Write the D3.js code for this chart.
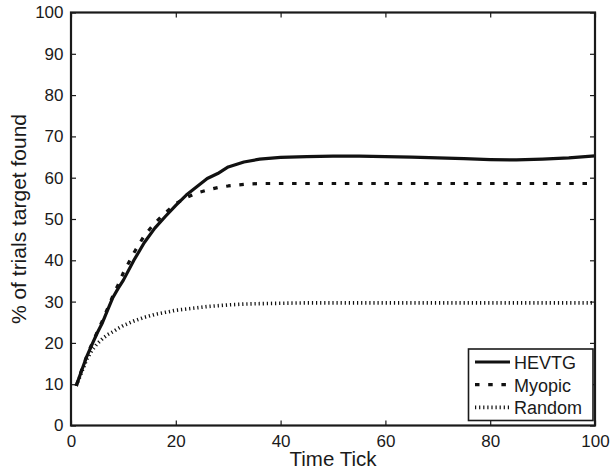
<!DOCTYPE html>
<html><head><meta charset="utf-8">
<script src="https://cdn.jsdelivr.net/npm/d3@7"></script>
<style>
body{margin:0;background:#fff}
text{font-family:"Liberation Sans",Arial,Helvetica,sans-serif;fill:#1a1a1a}
</style>
</head><body>
<svg id="chart" width="615" height="476"></svg>
<script>
// ---- data ----
const timeTicks = [1,2,3,4,5,6,7,8,9,10,12,14,16,18,20,22,24,26,28,30,33,36,40,45,50,55,60,65,70,75,80,85,90,95,100];
const hevtgValues = [9.6,13.2,16.7,19.6,22.4,24.9,28.0,31.0,33.2,35.2,40.0,44.3,47.8,50.6,53.3,55.8,57.8,59.8,61.0,62.6,63.8,64.5,64.9,65.1,65.2,65.2,65.1,65.0,64.8,64.6,64.4,64.3,64.5,64.8,65.3];
const myopicValues = [9.6,13.3,16.8,19.8,22.6,25.4,28.4,31.4,34.1,37.0,41.8,46.0,49.0,51.5,53.7,55.2,56.3,57.0,57.6,58.0,58.4,58.6,58.6,58.6,58.6,58.6,58.6,58.6,58.6,58.6,58.6,58.6,58.6,58.6,58.6];
const randomValues = [9.6,12.8,16.0,18.2,19.8,21.0,22.0,22.7,23.5,24.2,25.3,26.2,26.9,27.4,27.9,28.2,28.5,28.8,29.0,29.2,29.4,29.5,29.6,29.7,29.7,29.7,29.7,29.7,29.7,29.7,29.7,29.7,29.7,29.7,29.7];
const seriesNames = ["HEVTG","Myopic","Random"];
const xTickValues = [0,20,40,60,80,100];
const yTickValues = [0,10,20,30,40,50,60,70,80,90,100];
const xLabel = "Time Tick";
const yLabel = "% of trials target found";

// ---- layout ----
const L = 71, R = 595, T = 12.5, B = 425.5;
const svg = d3.select("#chart");
const x = d3.scaleLinear().domain([0,100]).range([L,R]);
const y = d3.scaleLinear().domain([0,100]).range([B,T]);

const styles = [
  {width:3.2, dash:null},
  {width:3.2, dash:"4.5,8.7"},
  {width:3.6, dash:"1.2,2.9"}
];
const allValues = [hevtgValues, myopicValues, randomValues];

// axes
const gx = svg.append("g").attr("transform",`translate(0,${B})`)
  .call(d3.axisBottom(x).tickValues(xTickValues).tickSizeInner(-5).tickSizeOuter(0).tickPadding(9.5));
const gy = svg.append("g").attr("transform",`translate(${L},0)`)
  .call(d3.axisLeft(y).tickValues(yTickValues).tickSizeInner(-5).tickSizeOuter(0).tickPadding(7.5));
const gxt = svg.append("g").attr("transform",`translate(0,${T})`)
  .call(d3.axisTop(x).tickValues(xTickValues).tickSizeInner(-5).tickSizeOuter(0).tickFormat(""));
const gyr = svg.append("g").attr("transform",`translate(${R},0)`)
  .call(d3.axisRight(y).tickValues(yTickValues).tickSizeInner(-5).tickSizeOuter(0).tickFormat(""));
[gx,gy,gxt,gyr].forEach(g=>{
  g.select(".domain").remove();
  g.selectAll(".tick line").attr("stroke","#1a1a1a").attr("stroke-width",1.2);
  g.selectAll("text").attr("font-size",17).style("fill","#1a1a1a");
});

// lines
const line = d3.line().x((d,i)=>x(timeTicks[i])).y(d=>y(d));
allValues.forEach((vals,k)=>{
  svg.append("path").datum(vals)
    .attr("d",line)
    .attr("fill","none")
    .attr("stroke","#111")
    .attr("stroke-width",styles[k].width)
    .attr("stroke-linejoin","round")
    .attr("stroke-dasharray",styles[k].dash);
});

// frame
svg.append("rect").attr("x",L).attr("y",T).attr("width",R-L).attr("height",B-T)
  .attr("fill","none").attr("stroke","#1a1a1a").attr("stroke-width",2.2);

// axis labels
svg.append("text").attr("x",(L+R)/2).attr("y",466).attr("text-anchor","middle")
  .attr("font-size",20.5).text(xLabel);
svg.append("text").attr("transform",`translate(26,${(T+B)/2}) rotate(-90)`)
  .attr("text-anchor","middle").attr("font-size",21).text(yLabel);

// legend
const lg = svg.append("g");
lg.append("rect").attr("x",468.5).attr("y",349).attr("width",124.5).attr("height",71.5)
  .attr("fill","#fff").attr("stroke","#1a1a1a").attr("stroke-width",1.6);
seriesNames.forEach((name,k)=>{
  const cy = 362 + k*22.7;
  lg.append("line").attr("x1",475).attr("x2",510).attr("y1",cy).attr("y2",cy)
    .attr("stroke","#111").attr("stroke-width",styles[k].width)
    .attr("stroke-dasharray",styles[k].dash);
  lg.append("text").attr("x",514).attr("y",cy+7).attr("font-size",18).text(name);
});
</script>
</body></html>
